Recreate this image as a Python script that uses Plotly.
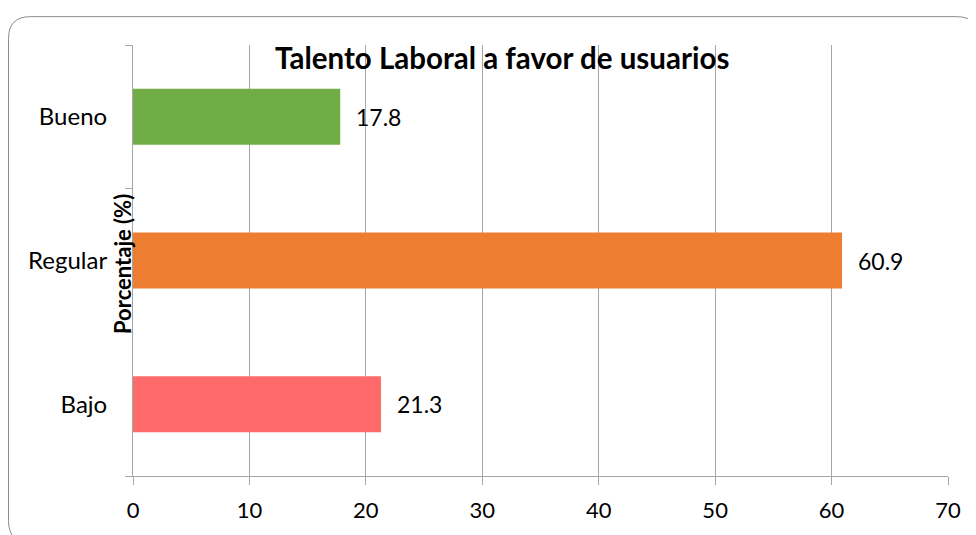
import plotly.graph_objects as go

categories = ["Bajo", "Regular", "Bueno"]
values = [21.3, 60.9, 17.8]
colors = ["#FF6B6B", "#ED7D31", "#70AD47"]
x_ticks = [0, 10, 20, 30, 40, 50, 60, 70]
title_text = "Talento Laboral a favor de usuarios"
y_title = "Porcentaje (%)"

OFF = 8  # default page body margin
W, H = 976 - OFF, 535 - OFF
L, R, T, B = 125, 28, 37, 57
pw, ph = W - L - R, H - T - B

def px_x(p):  # page pixel -> paper
    return (p - OFF - L) / pw

def px_y(p):
    return (H - B - (p - OFF)) / ph

FONT = "Lato"

fig = go.Figure()
fig.add_trace(go.Bar(
    y=categories, x=values, orientation="h",
    marker=dict(color=colors, line=dict(width=0)),
    width=0.39, hoverinfo="skip",
))

annotations = []
for c, v in zip(categories, values):
    annotations.append(dict(
        x=v, y=c, xref="x", yref="y", text=f"{v:.1f}", showarrow=False,
        xanchor="left", xshift=14, font=dict(size=23, color="#000000", family=FONT),
    ))
annotations.append(dict(
    x=px_x(123), y=px_y(265), xref="paper", yref="paper", text=f"<b>{y_title}</b>",
    textangle=-90, showarrow=False, font=dict(size=22, color="#000000", family=FONT),
    xanchor="center", yanchor="middle",
))
annotations.append(dict(
    x=px_x(502), y=px_y(58), xref="paper", yref="paper", text=f"<b>{title_text}</b>",
    showarrow=False, font=dict(size=29.5, color="#000000", family=FONT),
    xanchor="center", yanchor="middle",
))

# rounded border (right and bottom edges fall just outside the picture)
x0, x1 = px_x(8.5), px_x(978.5)
y0, y1 = px_y(545), px_y(16.5)
rx, ry = 22 / pw, 22 / ph
path = (f"M {x0+rx},{y1} L {x1-rx},{y1} Q {x1},{y1} {x1},{y1-ry} "
        f"L {x1},{y0+ry} Q {x1},{y0} {x1-rx},{y0} L {x0+rx},{y0} "
        f"Q {x0},{y0} {x0},{y0+ry} L {x0},{y1-ry} Q {x0},{y1} {x0+rx},{y1} Z")

fig.update_layout(
    width=W, height=H,
    margin=dict(l=L, r=R, t=T, b=B),
    paper_bgcolor="white", plot_bgcolor="white",
    showlegend=False,
    annotations=annotations,
    shapes=[dict(type="path", path=path, xref="paper", yref="paper",
                 line=dict(color="#8C8C8C", width=1), layer="below")],
)
fig.update_xaxes(
    range=[0, 70], tickvals=x_ticks, ticktext=[str(t) for t in x_ticks],
    showgrid=True, gridcolor="#A6A6A6", gridwidth=1,
    showline=True, linecolor="#A6A6A6", linewidth=1,
    ticks="outside", ticklen=8, tickcolor="#A6A6A6",
    ticklabelstandoff=7,
    tickfont=dict(size=22, color="#000000", family=FONT),
    zeroline=False, fixedrange=True,
)
fig.update_yaxes(
    categoryorder="array", categoryarray=categories,
    showgrid=False, showline=True, linecolor="#A6A6A6", linewidth=1,
    ticks="outside", ticklen=7, tickcolor="#A6A6A6", tickson="boundaries",
    ticklabelstandoff=20,
    tickfont=dict(size=24, color="#000000", family=FONT),
    fixedrange=True,
)

fig.write_html("out.html")
